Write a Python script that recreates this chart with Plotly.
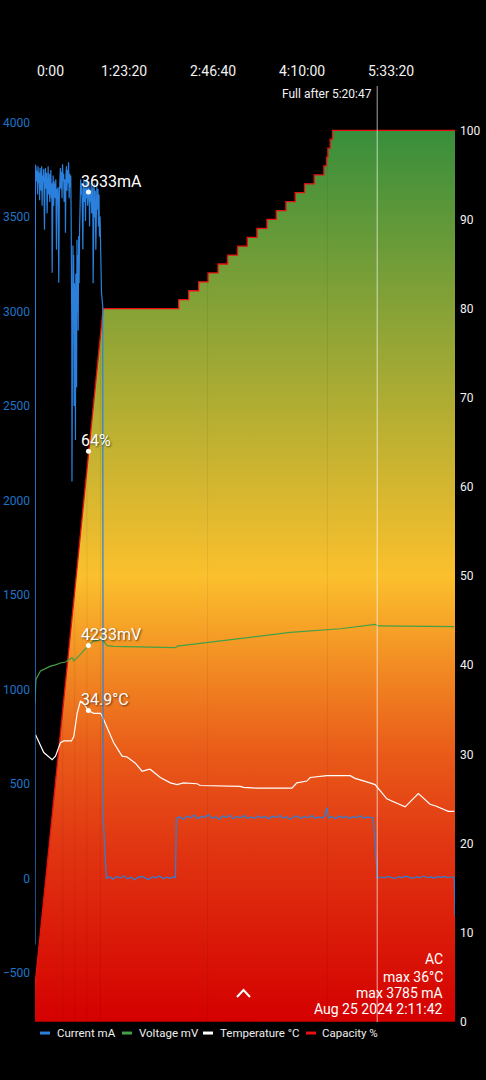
import plotly.graph_objects as go

# ---------------- data ----------------
tick_seconds = [0, 5000, 10000, 15000, 20000]
tick_labels = ["0:00", "1:23:20", "2:46:40", "4:10:00", "5:33:20"]

current_t = [0, 25, 40, 55, 85, 115, 145, 170, 200, 230, 260, 285, 315, 345, 375, 400, 430, 460, 490, 515,
             534, 560, 590, 620, 650, 680, 710, 740, 770, 800, 830, 860, 890, 920, 945, 966, 990, 1020, 1050,
             1080, 1110, 1140, 1170, 1208, 1240, 1270, 1300, 1337, 1370, 1400, 1430, 1460, 1490, 1520, 1550,
             1580, 1610, 1640, 1670, 1700, 1713, 1740, 1770, 1800, 1830, 1860, 1890, 1920, 1950, 1980, 2010,
             2034,
             2050, 2070, 2079, 2095, 2115, 2135, 2155, 2175, 2200, 2220, 2245, 2275, 2295, 2315, 2340, 2360,
             2385, 2410, 2430, 2455, 2480, 2510, 2540,
             2570, 2600, 2630, 2660, 2690, 2720, 2750, 2780, 2810, 2840, 2870, 2900, 2930, 2960, 3006, 3040,
             3070, 3100, 3130, 3160, 3190, 3220, 3250, 3270, 3300, 3330, 3360, 3390, 3420, 3450, 3480, 3510,
             3540, 3570, 3600, 3624, 3660, 3700, 3740, 3810, 3831, 4016,
             4200, 4400, 4600, 4800, 5000, 5200, 5400, 5600, 5800, 6000, 6200, 6400, 6600, 6800, 7000, 7200,
             7400, 7600, 7800, 7900,
             7950, 8150, 8350, 8550, 8750, 8950, 9150, 9350, 9550, 9750, 9950, 10150, 10350, 10550, 10750,
             10950, 11150, 11350, 11550, 11750, 11950, 12150, 12350, 12550, 12750, 12950, 13150, 13350, 13550,
             13750, 13950, 14150, 14350, 14550, 14750, 14950, 15150, 15350, 15550, 15750, 15950, 16150, 16300,
             16420, 16500, 16700, 16900, 17100, 17300, 17500, 17700, 17900, 18100, 18300, 18500, 18700, 18900,
             19030, 19260,
             19450, 19650, 19850, 20050, 20250, 20450, 20650, 20850, 21050, 21250, 21450, 21650, 21850, 22050,
             22250, 22450, 22650, 22850, 23050, 23250, 23450, 23580, 23620]
current_ma = [-350, 3778, 3330, 3760, 3690, 3745, 3620, 3770, 3680, 3735, 3590, 3760, 3700, 3640, 3770, 3560,
              3720, 3690, 3755, 3610, 3434, 3700, 3760, 3650, 3735, 3520, 3700, 3770, 3620, 3730, 3580, 3690,
              3750, 3600, 3680, 3206, 3640, 3720, 3560, 3690, 3640, 3600, 3700, 3328, 3650, 3590, 3660, 3153,
              3620, 3700, 3760, 3650, 3740, 3600, 3780, 3690, 3730, 3580, 3700, 3640, 3418, 3720, 3770, 3640,
              3750, 3680, 3790, 3600, 3730, 3660, 3720, 3500,
              3250, 2900, 2100, 3200, 2800, 3350, 2950, 3300, 2500, 3150, 2900, 2320, 3200, 2850, 2600, 3380,
              3000, 3300, 2900, 3400, 3150, 3450, 3600,
              3700, 3620, 3680, 3540, 3330, 3650, 3700, 3580, 3660, 3480, 3690, 3600, 3700, 3560, 3633, 3690,
              3450, 3640, 3580, 3680, 3520, 3620, 3660, 3150, 3600, 3680, 3500, 3640, 3328, 3610, 3680, 3540,
              3650, 3450, 3620, 3397, 3504, 3300, 3100, 3028, 330, 0,
              8, -5, 10, 2, 12, -3, 6, -8, 5, 10, 0, -6, 8, 3, 12, -2, 6, 0, 9, 2,
              318, 325, 312, 330, 320, 335, 316, 328, 322, 338, 318, 326, 312, 330, 322, 334, 315, 328, 320,
              332, 318, 325, 316, 330, 321, 327, 314, 329, 322, 333, 318, 326, 312, 324, 330, 316, 328, 320,
              332, 318, 325, 320, 330, 375, 318, 327, 315, 330, 320, 328, 316, 326, 321, 331, 318, 325, 322,
              318, 0,
              8, 2, 10, 4, -2, 9, 3, 11, 5, 0, 8, 4, 12, 3, 7, 1, 9, 5, 10, 3, 8, 5, -200]

voltage_t = [0, 50, 309, 590, 871, 1150, 1433, 1720, 1950, 2090, 2180, 2556, 3006, 3303, 3775, 4056, 4410,
             7893, 8006, 14354, 17163, 19129, 19315, 23568]
voltage_mv = [3930, 4053, 4097, 4111, 4123, 4130, 4140, 4145, 4159, 4168, 4150, 4185, 4233, 4256, 4265, 4232,
              4228, 4221, 4229, 4302, 4321, 4344, 4336, 4332]
voltage_offset_mv = 3000   # the app draws voltage on the mA scale, shifted by 3000

temp_t = [28, 124, 494, 966, 1152, 1433, 1618, 2051, 2180, 2371, 2556, 2837, 3006, 3303, 3680, 3775, 3961,
          4427, 4899, 5180, 5646, 6022, 6395, 6489, 7050, 7612, 7989, 8360, 9113, 9298, 11545, 11730, 12483,
          13607, 14450, 14730, 15292, 15478, 16416, 17724, 18005, 18663, 19129, 19787, 20253, 20815, 21562,
          22220, 22539, 23247, 23585]
temp_c = [32.2, 31.8, 30.2, 29.4, 29.8, 31.3, 31.5, 31.5, 32.0, 34.6, 36.0, 35.4, 34.9, 34.6, 34.6, 34.3, 33.5,
          31.3, 29.8, 29.7, 29.0, 28.1, 28.3, 28.3, 27.4, 26.8, 26.6, 26.8, 26.7, 26.5, 26.4, 26.3, 26.2,
          26.2, 26.2, 26.8, 27.0, 27.4, 27.6, 27.6, 27.3, 26.9, 26.6, 25.0, 24.6, 24.1, 25.6,
          24.4, 24.2, 23.6, 23.6]

# capacity: first reading, then the level reached at each change time
capacity_start = (0, 4)
capacity_first_full_step = (3831, 80)
capacity_change_t = [8079, 8641, 9203, 9731, 10292, 10831, 11393, 11938, 12483, 13045, 13568, 14112, 14635,
                     15157, 15702, 16247, 16393, 16472, 16601, 16730]
capacity_level = [81, 82, 83, 84, 85, 86, 87, 88, 89, 90, 91, 92, 93, 94, 95, 96, 97, 98, 99, 100]
capacity_end_t = 23623

# faint seams in the capacity fill
seam_t = [1562, 2236, 2921, 3680, 9708, 16449]
seam_level = [35, 48, 62, 77, 83, 97]

full_after_t = 19247
full_after_label = "Full after 5:20:47"

cross_t = 3006
cross_current = 3633
cross_capacity = 64
cross_voltage = 4233
cross_temp = 34.9

info_lines = ["AC", "max 36°C", "max 3785 mA", "Aug 25 2024 2:11:42"]
legend_names = ["Current mA", "Voltage mV", "Temperature °C", "Capacity %"]

# ---------------- styles ----------------
BLUE = "#2a80dc"
BLUE_TXT = "#1f74c9"
GREEN = "#43a047"
RED = "#e81010"
FONT = "Roboto"

cap_x = [capacity_start[0], capacity_first_full_step[0]]
cap_y = [capacity_start[1], capacity_first_full_step[1]]
prev = capacity_first_full_step[1]
for t, lv in zip(capacity_change_t, capacity_level):
    cap_x += [t, t]
    cap_y += [prev, lv]
    prev = lv
cap_x.append(capacity_end_t)
cap_y.append(prev)

fig = go.Figure()

# base axis "y" = percent / °C (right side); overlay "y2" = mA (left side)
fig.add_trace(go.Scatter(
    x=cap_x, y=cap_y, yaxis="y", mode="lines", name="Capacity %",
    line=dict(color=RED, width=1.3), fill="tozeroy",
    fillgradient=dict(type="vertical", start=0, stop=100,
                      colorscale=[[0.0, "rgb(212,0,0)"], [0.2, "rgb(225,55,18)"],
                                  [0.3, "rgb(233,90,25)"], [0.4, "rgb(242,140,35)"],
                                  [0.5, "rgb(251,192,45)"], [1.0, "rgb(56,142,60)"]]),
    showlegend=False, hoverinfo="skip"))

sx, sy = [], []
for t, lv in zip(seam_t, seam_level):
    sx += [t, t, None]
    sy += [0, lv, None]
fig.add_trace(go.Scatter(x=sx, y=sy, yaxis="y", mode="lines",
                         line=dict(color="rgba(0,0,0,0.07)", width=1),
                         showlegend=False, hoverinfo="skip"))

fig.add_trace(go.Scatter(
    x=temp_t, y=temp_c, yaxis="y", mode="lines",
    line=dict(color="white", width=1.2), showlegend=False))
fig.add_trace(go.Scatter(x=[cross_t, cross_t], y=[cross_capacity, cross_temp],
                         yaxis="y", mode="markers", marker=dict(color="white", size=5),
                         showlegend=False))

fig.add_trace(go.Scatter(
    x=voltage_t, y=[v - voltage_offset_mv for v in voltage_mv], yaxis="y2", mode="lines",
    line=dict(color=GREEN, width=1.2), showlegend=False))
fig.add_trace(go.Scatter(
    x=current_t, y=current_ma, yaxis="y2", mode="lines",
    line=dict(color=BLUE, width=1.2), showlegend=False))
fig.add_trace(go.Scatter(x=[cross_t, cross_t], y=[cross_current, cross_voltage - voltage_offset_mv],
                         yaxis="y2", mode="markers", marker=dict(color="white", size=5),
                         showlegend=False))

ann = []
shadow = "1px 1px 2px rgba(0,0,0,0.6)"
for txt, yv, yr in [(f"{cross_current}mA", cross_current, "y2"),
                    (f"{cross_capacity}%", cross_capacity, "y"),
                    (f"{cross_voltage}mV", cross_voltage - voltage_offset_mv, "y2"),
                    (f"{cross_temp}°C", cross_temp, "y")]:
    ann.append(dict(x=cross_t, y=yv, xref="x", yref=yr, text=txt, showarrow=False,
                    xanchor="left", yanchor="middle", xshift=-9, yshift=11,
                    font=dict(family=FONT, size=16, color="white", shadow=shadow)))

for i, (tv, tl) in enumerate(zip(tick_seconds, tick_labels)):
    ann.append(dict(x=tv, y=1, xref="x", yref="paper", text=tl, showarrow=False,
                    xanchor="left" if i == 0 else "center", yanchor="middle", yshift=15,
                    font=dict(family=FONT, size=14, color="#f2f2f2")))

ann.append(dict(x=full_after_t, y=1, xref="x", yref="paper", text=full_after_label, showarrow=False,
                xanchor="right", yanchor="middle", xshift=-3, yshift=-8,
                font=dict(family=FONT, size=12, color="#f2f2f2")))

info_y = [0.0670, 0.0484, 0.0313, 0.0136]
for txt, yy in zip(info_lines, info_y):
    ann.append(dict(x=0.977, y=yy, xref="paper", yref="paper", text=txt, showarrow=False,
                    xanchor="right", yanchor="middle",
                    font=dict(family=FONT, size=14, color="white")))

# custom legend row
leg_colors = [BLUE, GREEN, "white", RED]
leg_sym_x = [0.0119, 0.2071, 0.4000, 0.6452]
leg_txt_x = [0.0476, 0.2429, 0.4357, 0.6786]
legend_y = -0.0118
shapes = []
for c, sxp, txp, name in zip(leg_colors, leg_sym_x, leg_txt_x, legend_names):
    shapes.append(dict(type="line", xref="paper", yref="paper", x0=sxp, x1=sxp + 0.0238,
                       y0=legend_y, y1=legend_y, line=dict(color=c, width=3)))
    ann.append(dict(x=txp, y=legend_y, xref="paper", yref="paper", text=name, showarrow=False,
                    xanchor="left", yanchor="middle",
                    font=dict(family=FONT, size=11.5, color="#eeeeee")))

# "full after" marker line
shapes.append(dict(type="line", xref="x", yref="paper", x0=full_after_t, x1=full_after_t, y0=0, y1=1,
                   line=dict(color="rgba(255,255,255,0.65)", width=1)))
# chevron handle
shapes.append(dict(type="path", xref="paper", yref="paper",
                   path="M 0.48095 0.02671 L 0.49643 0.03419 L 0.5119 0.02671",
                   line=dict(color="white", width=2)))

fig.update_layout(
    width=486, height=1080,
    margin=dict(l=35, r=31, t=86, b=58, autoexpand=False),
    paper_bgcolor="black", plot_bgcolor="black",
    showlegend=False,
    font=dict(family=FONT, color="white"),
    xaxis=dict(range=[0, capacity_end_t], showgrid=False, zeroline=False, showticklabels=False,
               showline=False, ticks="", automargin=False),
    yaxis=dict(range=[-0.03, 104.97], tickvals=list(range(0, 101, 10)), side="right",
               showgrid=False, zeroline=False, showline=False, ticks="", automargin=False,
               tickfont=dict(family=FONT, size=12, color="#f2f2f2"), ticklabelstandoff=4),
    yaxis2=dict(range=[-760.7, 4194.3], tickvals=[-500, 0, 500, 1000, 1500, 2000, 2500, 3000, 3500, 4000],
                overlaying="y", side="left", automargin=False,
                showgrid=False, zeroline=False, showline=False, ticks="",
                tickfont=dict(family=FONT, size=12, color=BLUE_TXT), ticklabelstandoff=4),
    annotations=ann, shapes=shapes,
)

fig.write_html("out.html", config={"displayModeBar": False},
               post_script="document.body.style.margin='0';document.body.style.background='black';")
